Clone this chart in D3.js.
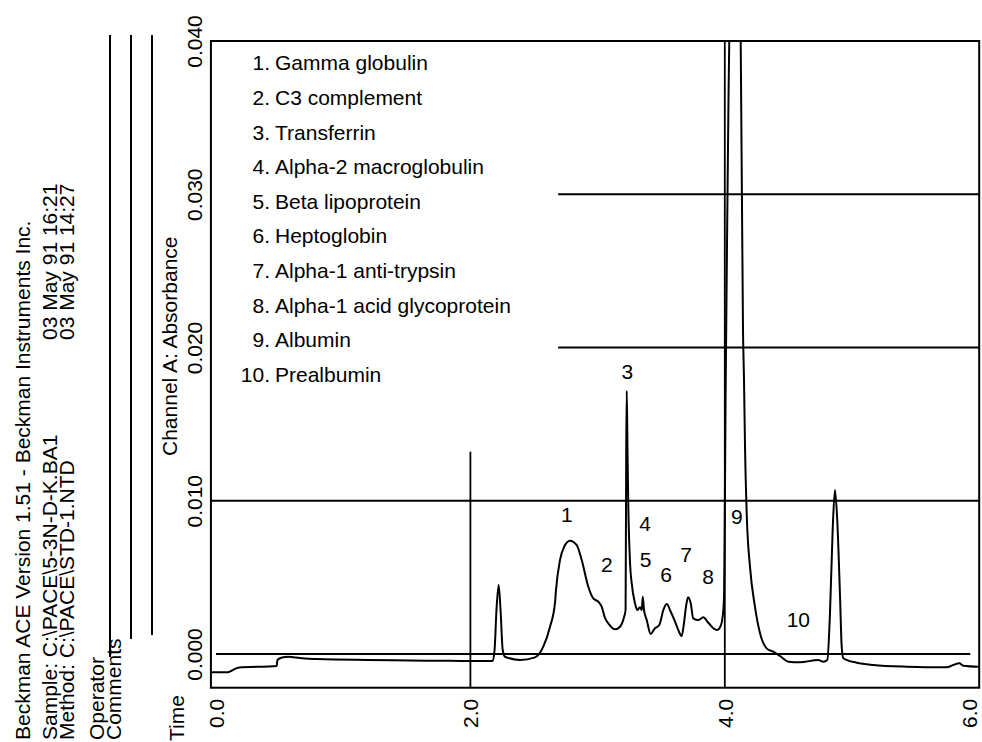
<!DOCTYPE html>
<html>
<head>
<meta charset="utf-8">
<script src="https://cdn.jsdelivr.net/npm/d3@7"></script>
<style>
  html, body { margin: 0; padding: 0; background: #fff; overflow: hidden; }
  svg { display: block; }
  text { font-family: "Liberation Sans", Arial, Helvetica, sans-serif; fill: #000; }
</style>
</head>
<body>
<svg id="chart" width="982" height="742"></svg>
<script>
// ---- data (time in minutes, absorbance units) ----
const timeValues = [
  -0.039, 0.094, 0.173, 0.477, 0.483, 0.519, 0.566, 0.660, 0.792, 1.761, 1.997, 2.175,
  2.190, 2.205, 2.222, 2.237, 2.254, 2.272, 2.390, 2.508, 2.573, 2.626, 2.665, 2.673,
  2.704, 2.736, 2.783, 2.836, 2.875, 2.927, 2.966, 3.006, 3.032, 3.058, 3.084, 3.137,
  3.176, 3.208, 3.220, 3.225, 3.229, 3.235, 3.241, 3.255, 3.268, 3.294, 3.312, 3.333,
  3.347, 3.355, 3.365, 3.386, 3.417, 3.451, 3.485, 3.517, 3.543, 3.575, 3.609, 3.634,
  3.661, 3.679, 3.695, 3.711, 3.732, 3.752, 3.792, 3.831, 3.870, 3.910, 3.941, 3.968,
  3.983, 3.994, 3.998, 4.006, 4.017, 4.029, 4.035, 4.080, 4.125, 4.143, 4.151, 4.159,
  4.172, 4.198, 4.237, 4.277, 4.329, 4.381, 4.434, 4.499, 4.591, 4.735, 4.774, 4.806,
  4.827, 4.848, 4.866, 4.884, 4.906, 4.919, 4.932, 5.037, 5.167, 5.430, 5.744, 5.796,
  5.843, 5.875, 6.000
];
const absorbanceValues = [
  -0.00119, -0.00119, -0.00089, -0.00078, -0.00039, -0.00023, -0.00018, -0.00026, -0.00033, -0.00044, -0.00046, -0.00046,
  0.00026, 0.00287, 0.00450, 0.00287, 0.00026, -0.00018, -0.00039, -0.00022, 0.00048, 0.00178, 0.00333, 0.00418,
  0.00613, 0.00698, 0.00739, 0.00711, 0.00613, 0.00439, 0.00363, 0.00341, 0.00309, 0.00235, 0.00200, 0.00161,
  0.00178, 0.00241, 0.00287, 0.01331, 0.01718, 0.01331, 0.00985, 0.00594, 0.00463, 0.00331, 0.00287, 0.00305,
  0.00287, 0.00374, 0.00287, 0.00222, 0.00131, 0.00168, 0.00189, 0.00287, 0.00326, 0.00276, 0.00211, 0.00157,
  0.00117, 0.00202, 0.00309, 0.00370, 0.00331, 0.00233, 0.00222, 0.00239, 0.00204, 0.00168, 0.00157, 0.00183,
  0.00243, 0.00374, 0.00679, 0.01657, 0.02636, 0.03615, 0.04000, 0.05500, 0.04000, 0.02114, 0.01788, 0.01353,
  0.00920, 0.00570, 0.00309, 0.00135, 0.00037, 0.00015, -0.00013, -0.00050, -0.00054, -0.00039, -0.00050, -0.00039,
  0.00268, 0.00809, 0.01070, 0.00874, 0.00374, 0.00048, -0.00028, -0.00057, -0.00072, -0.00083, -0.00087, -0.00072,
  -0.00061, -0.00076, -0.00083
];

const xTicks = [0, 2, 4, 6];
const xTickLabels = ["0.0", "2.0", "4.0", "6.0"];
const yTicks = [0, 0.01, 0.02, 0.03, 0.04];
const yTickLabels = ["0.000", "0.010", "0.020", "0.030", "0.040"];

const legendNumbers = ["1.", "2.", "3.", "4.", "5.", "6.", "7.", "8.", "9.", "10."];
const legendNames = ["Gamma globulin", "C3 complement", "Transferrin", "Alpha-2 macroglobulin",
  "Beta lipoprotein", "Heptoglobin", "Alpha-1 anti-trypsin", "Alpha-1 acid glycoprotein",
  "Albumin", "Prealbumin"];

const peakLabels = ["1", "2", "3", "4", "5", "6", "7", "8", "9", "10"];
const peakLabelTimes = [2.759, 3.072, 3.234, 3.373, 3.378, 3.538, 3.695, 3.868, 4.094, 4.578];
const peakLabelValues = [0.00907, 0.00581, 0.01842, 0.00848, 0.00613, 0.00515, 0.00646, 0.00502, 0.00894, 0.00222];

// reference lines [value, from time, to time] and [time, from value, to value]
const hLineValues = [0.000, 0.010, 0.020, 0.030];
const hLineFrom = [0.0, -0.04, 2.69, 2.69];
const hLineTo = [5.93, 6.0, 6.0, 6.0];
const vLineTimes = [2.0, 4.0];
const vLineFrom = [-0.0022, -0.0022];
const vLineTo = [0.0132, 0.040];

const headerTitle = "Beckman ACE Version 1.51 - Beckman Instruments Inc.";
const sampleText = "Sample: C:\\PACE\\5-3N-D-K.BA1";
const methodText = "Method: C:\\PACE\\STD-1.NTD";
const sampleDate = "03 May 91 16:21";
const methodDate = "03 May 91 14:27";

// ---- drawing ----
const svg = d3.select("#chart");
const FS = 21;

const x = d3.scaleLinear().domain([0, 6]).range([216, 979.2]);
const y = d3.scaleLinear().domain([0, 0.04]).range([654, 41]);
const xMin = -0.04, xMax = 6.0, yMin = -0.0022, yMax = 0.04;

// clip
svg.append("clipPath").attr("id", "plotClip")
  .append("rect")
  .attr("x", x(xMin)).attr("y", y(yMax))
  .attr("width", x(xMax) - x(xMin)).attr("height", y(yMin) - y(yMax));

// reference lines
const grid = svg.append("g").attr("stroke", "#000").attr("stroke-width", 1.8).attr("fill", "none");
hLineValues.forEach((v, i) => {
  grid.append("line")
    .attr("x1", x(hLineFrom[i])).attr("x2", x(hLineTo[i]))
    .attr("y1", y(v)).attr("y2", y(v));
});
vLineTimes.forEach((t, i) => {
  grid.append("line")
    .attr("x1", x(t)).attr("x2", x(t))
    .attr("y1", y(vLineFrom[i])).attr("y2", y(vLineTo[i]));
});

// trace
const data = timeValues.map((t, i) => ({ t: t, v: absorbanceValues[i] }));
const line = d3.line().x(d => x(d.t)).y(d => y(d.v)).curve(d3.curveMonotoneX);
svg.append("path")
  .datum(data)
  .attr("clip-path", "url(#plotClip)")
  .attr("d", line)
  .attr("fill", "none")
  .attr("stroke", "#000")
  .attr("stroke-width", 2)
  .attr("stroke-linejoin", "round");

// frame
svg.append("rect")
  .attr("x", x(xMin)).attr("y", y(yMax))
  .attr("width", x(xMax) - x(xMin)).attr("height", y(yMin) - y(yMax))
  .attr("fill", "none").attr("stroke", "#000").attr("stroke-width", 2);

// x axis (labels rotated)
const xAxis = svg.append("g")
  .call(d3.axisBottom(x).tickValues(xTicks).tickFormat((d, i) => xTickLabels[i]).tickSize(0));
xAxis.select(".domain").remove();
xAxis.selectAll("text")
  .attr("transform", "rotate(-90)")
  .attr("x", -728).attr("y", 0)
  .attr("dy", (d, i) => i === xTicks.length - 1 ? "-0.12em" : "0.35em")
  .attr("text-anchor", "start")
  .style("font-size", FS + "px")
  .style("font-family", "'Liberation Sans', Arial, sans-serif");

// y axis (labels rotated)
const yAxis = svg.append("g").attr("transform", "translate(195,0)")
  .call(d3.axisLeft(y).tickValues(yTicks).tickFormat((d, i) => yTickLabels[i]).tickSize(0));
yAxis.select(".domain").remove();
yAxis.selectAll("text")
  .attr("transform", "rotate(-90)")
  .attr("x", 0).attr("y", 0).attr("dy", "0.35em")
  .attr("text-anchor", "middle")
  .style("font-size", FS + "px")
  .style("font-family", "'Liberation Sans', Arial, sans-serif");

// rotated side texts
function vText(cx, startY, str, anchor) {
  svg.append("text")
    .attr("transform", `translate(${cx},${startY}) rotate(-90)`)
    .attr("dy", "0.35em")
    .attr("text-anchor", anchor || "start")
    .style("font-size", FS + "px")
    .text(str);
}
vText(23, 740, headerTitle);
vText(50, 740, sampleText);
vText(67, 740, methodText);
vText(50, 340, sampleDate);
vText(67, 340, methodDate);
vText(97, 740, "Operator");
vText(114, 740, "Comments");
vText(177, 741, "Time");
vText(170, 456, "Channel A: Absorbance");

// form lines
const formLineX = [110, 131, 152];
const formLineBottom = [657, 639, 635];
formLineX.forEach((fx, i) => {
  svg.append("line")
    .attr("x1", fx).attr("x2", fx)
    .attr("y1", 35).attr("y2", formLineBottom[i])
    .attr("stroke", "#000").attr("stroke-width", 2);
});

// legend
const legend = svg.append("g").style("font-size", FS + "px");
legendNames.forEach((name, i) => {
  const ly = 63 + 34.6 * i;
  legend.append("text").attr("x", 270).attr("y", ly).attr("dy", "0.35em")
    .attr("text-anchor", "end").text(legendNumbers[i]);
  legend.append("text").attr("x", 275).attr("y", ly).attr("dy", "0.35em")
    .attr("text-anchor", "start").text(name);
});

// peak labels
peakLabels.forEach((lab, i) => {
  svg.append("text")
    .attr("x", x(peakLabelTimes[i])).attr("y", y(peakLabelValues[i]))
    .attr("dy", "0.35em").attr("text-anchor", "middle")
    .style("font-size", FS + "px")
    .text(lab);
});
</script>
</body>
</html>
